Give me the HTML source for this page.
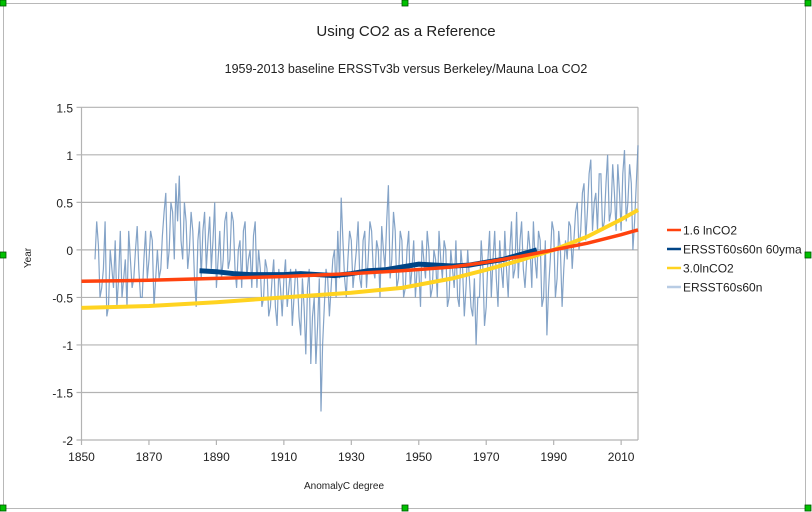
<!DOCTYPE html>
<html><head><meta charset="utf-8"><style>
body{margin:0;background:#fff;}
svg{display:block;font-family:"Liberation Sans",sans-serif;}
</style></head><body>
<svg id="c" width="812" height="512" xmlns="http://www.w3.org/2000/svg">
<rect x="0" y="0" width="812" height="512" fill="#fff"/>
<rect x="3.5" y="3.5" width="802" height="505" fill="none" stroke="#b8b8b8"/>
<text x="406" y="36" text-anchor="middle" font-size="15" fill="#222">Using CO2 as a Reference</text>
<text x="406" y="73" text-anchor="middle" font-size="12.5" fill="#222">1959-2013 baseline ERSSTv3b versus Berkeley/Mauna Loa CO2</text>
<g id="grid"></g>
<g id="series"></g>
<text transform="translate(31,258) rotate(-90)" text-anchor="middle" font-size="10" fill="#222">Year</text>
<text x="344" y="489" text-anchor="middle" font-size="10" fill="#222">AnomalyC degree</text>
<g id="legend" font-size="12" fill="#222"></g>
<g id="handles"></g>
</svg>
<script>
const xTicks=[1850,1870,1890,1910,1930,1950,1970,1990,2010];
const yTicks=[1.5,1,0.5,0,-0.5,-1,-1.5,-2];
const rawStart=1854;
const rawValues=[-0.1,0.05,-0.4,0.3,-0.6,-0.2,0.1,-0.3,-0.5,-0.1,
0.2,-0.4,0.0,-0.2,-0.5,0.2,-0.1,0.1,-0.3,-0.3,
0.15,0.6,0.0,0.4,0.7,0.78,-0.1,0.3,0.0,0.2,
-0.6,0.3,0.2,-0.2,0.35,0.1,-0.4,0.2,-0.1,0.4,
-0.1,0.3,-0.4,0.1,0.2,-0.3,0.0,0.15,-0.4,-0.2,
-0.5,-0.2,-0.6,-0.1,-0.8,-0.4,-0.3,-0.6,-0.2,-0.5,
-0.3,-0.9,-0.6,-0.4,-1.2,-0.5,-0.8,-1.7,-0.6,-0.3,
-0.4,0.0,0.2,0.55,-0.3,-0.1,0.1,-0.2,0.3,-0.4,
0.2,-0.1,0.2,-0.3,0.0,0.25,-0.2,0.68,-0.1,0.2,
-0.3,0.1,-0.4,0.2,-0.2,-0.5,-0.2,0.1,-0.3,0.0,
-0.4,-0.1,0.2,-0.3,0.0,-0.5,-0.2,0.1,-0.6,-0.2,
-0.4,-0.3,-0.7,-1.0,-0.5,-0.2,-0.6,0.2,-0.1,-0.3,
0.1,-0.4,-0.2,0.0,-0.3,0.4,0.1,-0.2,-0.1,0.0,
0.3,-0.3,0.1,-0.5,-0.9,-0.1,0.2,-0.3,0.0,-0.2,
-0.1,0.25,0.1,0.5,0.2,0.7,0.4,0.95,0.5,0.2,
0.8,0.3,1.0,0.4,0.6,0.9,0.2,1.05,0.5,0.7,
0.3,1.1];
const rawMidStart=1854.5;
const rawMidValues=[0.3,-0.5,-0.2,-0.7,0.0,-0.4,-0.6,0.2,-0.3,-0.6,
-0.1,-0.3,0.25,-0.5,-0.1,-0.3,0.2,-0.6,0.0,-0.2,
0.4,-0.2,0.5,-0.1,0.3,0.1,0.5,-0.2,0.4,-0.3,
0.1,-0.3,0.4,0.1,-0.2,0.5,-0.1,-0.3,0.3,-0.2,
0.4,-0.2,0.0,-0.4,0.3,-0.1,-0.4,0.3,0.0,-0.6,
-0.1,-0.7,-0.3,-0.6,-0.2,-0.7,-0.1,-0.4,-0.8,-0.2,
-0.7,-0.3,-1.1,-0.2,-0.7,-1.2,-0.3,-1.0,-0.2,-0.7,
-0.1,-0.5,-0.3,0.1,-0.5,0.2,-0.4,0.0,-0.3,0.1,
-0.4,0.3,-0.2,0.1,-0.5,0.0,0.3,-0.3,0.4,-0.4,
0.2,-0.5,0.0,-0.4,0.1,-0.2,-0.6,-0.1,0.2,-0.5,
0.0,-0.5,-0.1,0.1,-0.6,0.0,-0.4,-0.5,0.0,-0.7,
0.0,-0.6,-0.3,-0.5,0.1,-0.8,-0.1,-0.5,0.2,-0.6,
-0.2,0.2,-0.5,0.3,-0.2,-0.3,0.3,-0.4,0.2,-0.4,
-0.1,0.2,-0.6,0.1,-0.4,0.3,-0.5,0.2,-0.6,0.1,
0.3,-0.2,0.4,0.0,0.6,0.1,0.8,0.2,0.6,0.8,
0.2,0.7,0.3,0.9,0.2,0.6,0.8,0.3,0.9,0.0,
0.7];
const co2Years=[1850,1870,1890,1910,1930,1945,1960,1970,1980,1990,2000,2010,2015];
const co16=[-0.33,-0.32,-0.30,-0.28,-0.25,-0.22,-0.18,-0.13,-0.07,0.0,0.07,0.16,0.21];
const co30=[-0.61,-0.59,-0.55,-0.50,-0.45,-0.40,-0.30,-0.21,-0.11,0.0,0.14,0.32,0.42];
const smaYears=[1885,1890,1895,1900,1905,1910,1915,1920,1925,1930,1935,1940,1945,1950,1955,1960,1965,1970,1975,1980,1985];
const smaValues=[-0.22,-0.23,-0.25,-0.26,-0.26,-0.26,-0.25,-0.26,-0.27,-0.25,-0.22,-0.21,-0.18,-0.15,-0.16,-0.17,-0.16,-0.13,-0.10,-0.05,0.0];

const X0=81.5,X1=638,Y0=107.3,Y1=440,xmin=1850,xmax=2015,ymin=-2,ymax=1.5;
const xs=v=>X0+(v-xmin)/(xmax-xmin)*(X1-X0);
const ys=v=>Y1-(v-ymin)/(ymax-ymin)*(Y1-Y0);
const NS='http://www.w3.org/2000/svg';
function mk(tag,attrs,parent){const e=document.createElementNS(NS,tag);for(const k in attrs)e.setAttribute(k,attrs[k]);parent.appendChild(e);return e;}
const grid=document.getElementById('grid');
yTicks.forEach(t=>{
  const l=mk('line',{x1:X0-5,x2:X1,y1:ys(t),y2:ys(t),stroke:'#b3b3b3','stroke-width':1.2},grid);
  
  
  const tx=mk('text',{x:73,y:ys(t)+5,'text-anchor':'end','font-size':12,fill:'#222'},grid);
  tx.textContent=String(t);
  
  
});
const ax=mk('line',{x1:X0,x2:X0,y1:Y0,y2:Y1,stroke:'#b3b3b3','stroke-width':1.2},grid);


const ax2=mk('line',{x1:X1,x2:X1,y1:Y0,y2:Y1,stroke:'#b3b3b3','stroke-width':1.2},grid);


xTicks.forEach(t=>{
  const l=mk('line',{x1:xs(t),x2:xs(t),y1:Y1,y2:Y1+5,stroke:'#b3b3b3','stroke-width':1.2},grid);
  
  
  const tx=mk('text',{x:xs(t),y:Y1+21,'text-anchor':'middle','font-size':12,fill:'#222'},grid);
  tx.textContent=String(t);
  
  
});
const ser=document.getElementById('series');
function path(xv,yv){return xv.map((x,i)=>(i?'L':'M')+xs(x).toFixed(1)+','+ys(yv[i]).toFixed(1)).join('');}
const rawPts=[];
rawValues.forEach((v,i)=>rawPts.push([rawStart+i,v]));
rawMidValues.forEach((v,i)=>rawPts.push([rawMidStart+i,v]));
rawPts.sort((a,b)=>a[0]-b[0]);
const p1=mk('path',{d:path(rawPts.map(p=>p[0]),rawPts.map(p=>p[1])),fill:'none',stroke:'#6f93bd','stroke-width':1.2,'stroke-opacity':0.85},ser);


const p3=mk('path',{d:path(co2Years,co30),fill:'none',stroke:'#ffd320','stroke-width':4},ser);


const p2=mk('path',{d:path(smaYears,smaValues),fill:'none',stroke:'#004586','stroke-width':5},ser);


const p4=mk('path',{d:path(co2Years,co16),fill:'none',stroke:'#ff420e','stroke-width':3.5},ser);


const legNames=['1.6 lnCO2','ERSST60s60n 60yma','3.0lnCO2','ERSST60s60n'];
const legColors=['#ff420e','#004586','#ffd320','#b8cce4'];
const lg=document.getElementById('legend');
legNames.forEach((n,i)=>{
  const y=230+i*19;
  const g=mk('g',{},lg);
  
  
  mk('line',{x1:667,x2:681,y1:y,y2:y,stroke:legColors[i],'stroke-width':2.5},g);
  const t=mk('text',{x:683,y:y+4.5},g);
  t.textContent=n;
});
const hd=document.getElementById('handles');
[[3,3],[405,3],[808,3],[3,255],[808,255],[3,508],[405,508],[808,508]].forEach(p=>{
  const r=mk('rect',{x:p[0]-3,y:p[1]-3,width:6,height:6,fill:'#00c000',stroke:'#005000','stroke-width':0.8},hd);
  
  
});
</script>
</body></html>
